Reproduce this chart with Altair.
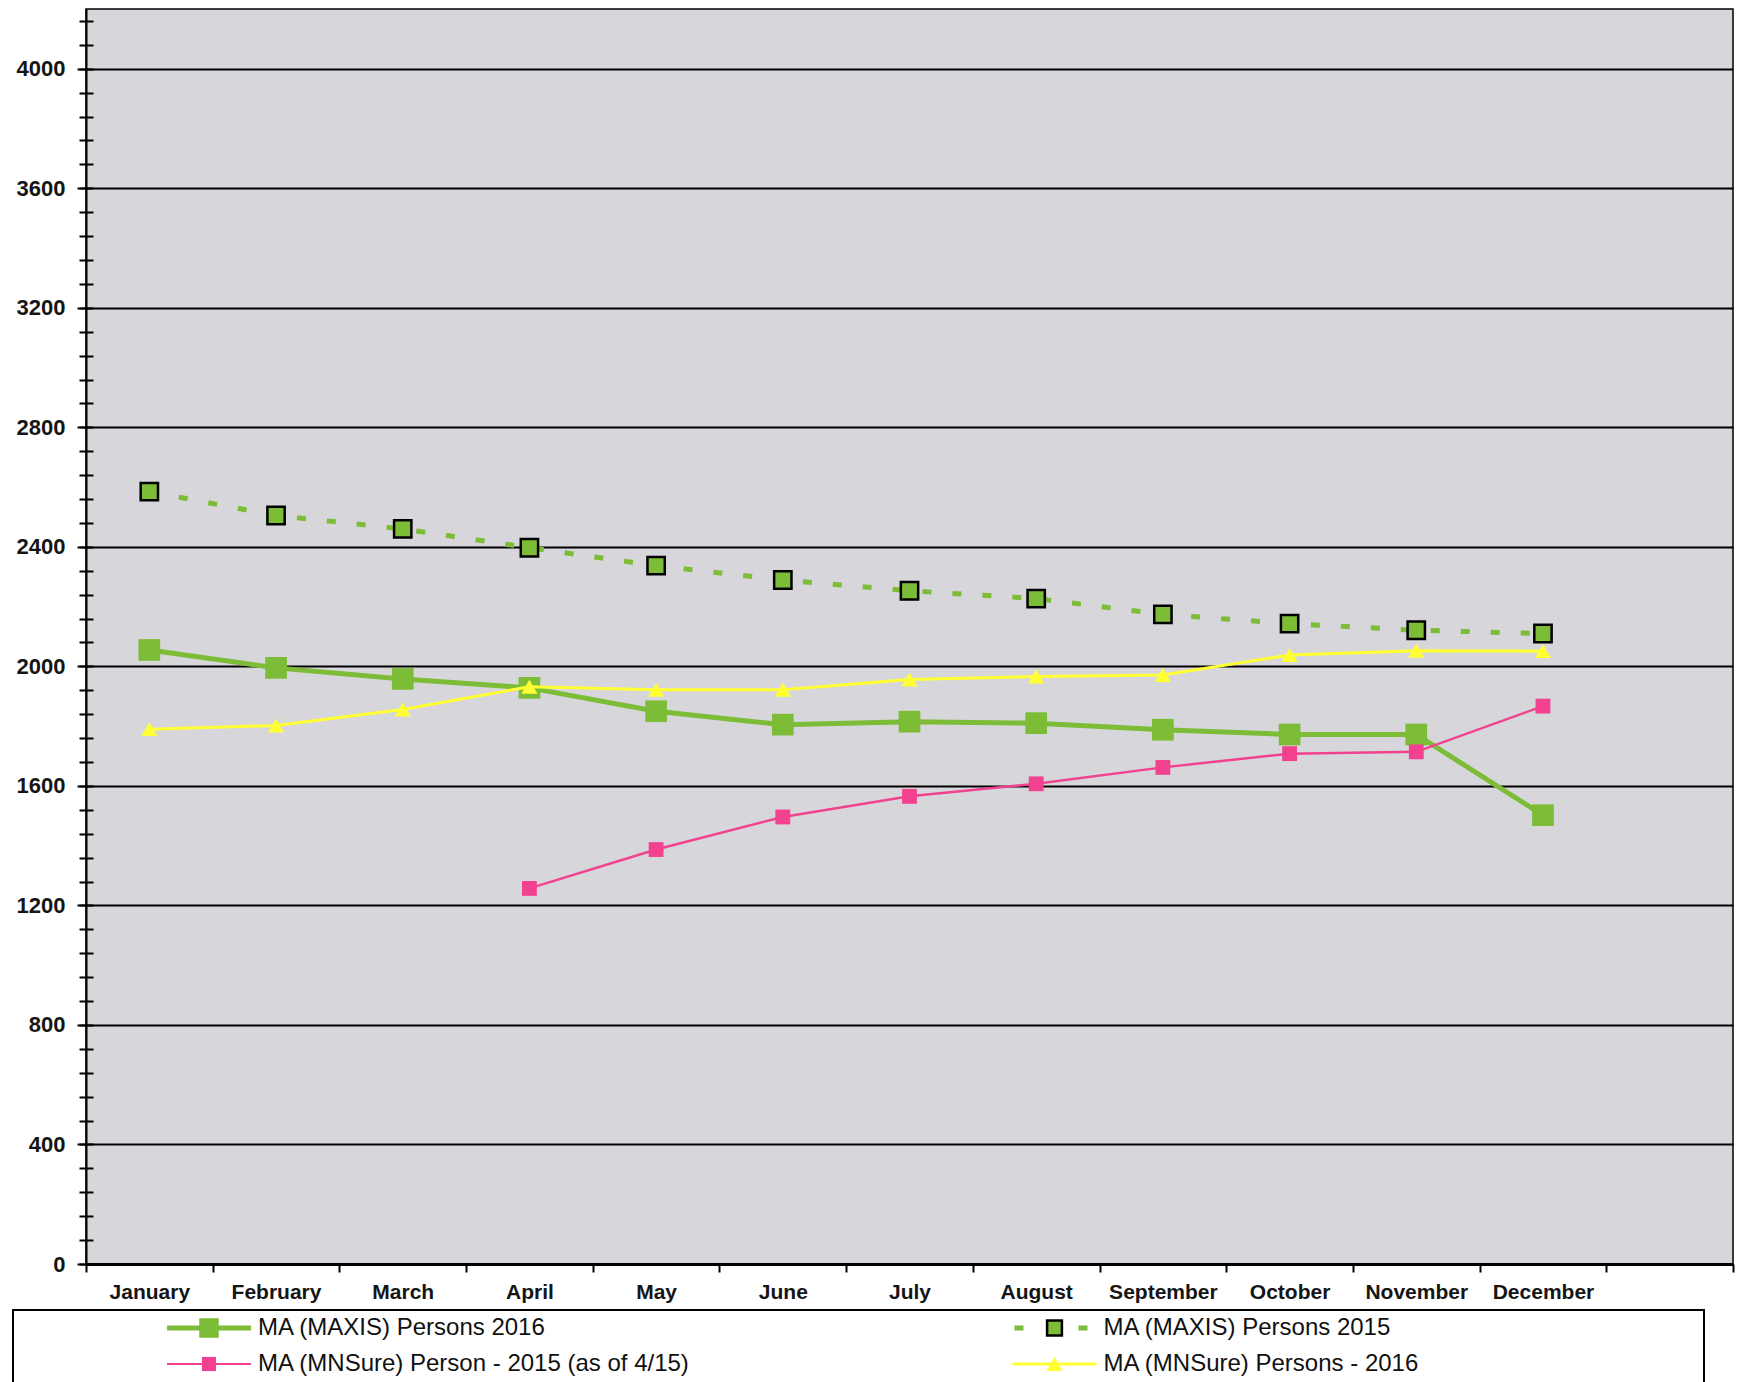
import altair as alt
import pandas as pd

# Monthly enrollment counts
months = ["January", "February", "March", "April", "May", "June", "July",
          "August", "September", "October", "November", "December"]
maxis_2016 = [2055, 1995, 1958, 1928, 1850, 1805, 1815, 1810, 1788, 1772, 1772, 1502]
maxis_2015 = [2585, 2505, 2460, 2397, 2337, 2289, 2253, 2227, 2174, 2143, 2121, 2110]
mnsure_2015 = [None, None, None, 1257, 1387, 1496, 1565, 1607, 1662, 1708, 1714, 1867]
mnsure_2016 = [1790, 1802, 1856, 1932, 1922, 1922, 1956, 1966, 1971, 2038, 2052, 2051]

series_names = ["MA (MAXIS) Persons 2016", "MA (MAXIS) Persons 2015",
                "MA (MNSure) Person - 2015 (as of 4/15)", "MA (MNSure) Persons - 2016"]
series_values = [maxis_2016, maxis_2015, mnsure_2015, mnsure_2016]

y_major = list(range(0, 4001, 400))
y_minor = list(range(0, 4200, 80))

GREEN = "#7cbc36"
PINK = "#f2418f"
YELLOW = "#ffff33"
FONT = "Liberation Sans"

rows = []
for name, vals in zip(series_names, series_values):
    for m, v in zip(months, vals):
        if v is not None:
            rows.append({"series": name, "month": m, "value": v})
df = pd.DataFrame(rows)

# 12 months plus one trailing empty slot on the category axis
x_domain = months + [" "]
x_enc = alt.X(
    "month:N", sort=None,
    scale=alt.Scale(type="band", domain=x_domain, paddingInner=0, paddingOuter=0),
    axis=alt.Axis(title=None, labelAngle=0, tickBand="extent", tickSize=8,
                  tickColor="black", tickWidth=2, domainColor="black",
                  domainWidth=3, grid=False, labelFont=FONT,
                  labelFontWeight="bold", labelFontSize=21, labelColor="#151515",
                  labelPadding=9, labelBaseline="top"),
)

y_scale = alt.Scale(domain=[0, 4200], nice=False, zero=True)
major_axis = alt.Axis(title=None, orient="left", values=y_major, format="d",
                      grid=True, gridColor="black", gridWidth=2, gridOpacity=1,
                      tickSize=9, tickColor="black", tickWidth=2,
                      domainColor="black", domainWidth=2, labelFont=FONT,
                      labelFontWeight="bold", labelFontSize=22,
                      labelColor="#151515", labelPadding=12)
minor_axis = alt.Axis(title=None, orient="left", values=y_minor, offset=-7,
                      tickSize=14, tickColor="black", tickWidth=2,
                      labels=False, domain=False, grid=False)


def y_enc(axis=None):
    return alt.Y("value:Q", scale=y_scale, axis=axis)


base = alt.Chart(df)


def only(name):
    return base.transform_filter(alt.datum.series == name)


green_line = only(series_names[0]).mark_line(color=GREEN, strokeWidth=5).encode(
    x=x_enc, y=y_enc(major_axis))
green_pts = only(series_names[0]).mark_point(
    shape="square", filled=True, size=470, color=GREEN, opacity=1
).encode(x=x_enc, y=y_enc())

pink_line = only(series_names[2]).mark_line(color=PINK, strokeWidth=2.5).encode(
    x=x_enc, y=y_enc())
pink_pts = only(series_names[2]).mark_point(
    shape="square", filled=True, size=220, color=PINK, opacity=1
).encode(x=x_enc, y=y_enc())

yellow_line = only(series_names[3]).mark_line(color=YELLOW, strokeWidth=3).encode(
    x=x_enc, y=y_enc())
yellow_pts = only(series_names[3]).mark_point(
    shape="triangle-up", filled=True, size=260, color=YELLOW, opacity=1
).encode(x=x_enc, y=y_enc())

dash_line = only(series_names[1]).mark_line(
    color=GREEN, strokeWidth=5, strokeDash=[9, 21]
).encode(x=x_enc, y=y_enc(minor_axis))
dash_pts = only(series_names[1]).mark_point(
    shape="square", filled=True, size=300, fill=GREEN, stroke="black",
    strokeWidth=2.5, opacity=1
).encode(x=x_enc, y=y_enc())

main = alt.layer(
    green_line, green_pts, pink_line, pink_pts,
    yellow_line, yellow_pts, dash_line, dash_pts,
).resolve_axis(y="independent").properties(
    width=1647, height=1255,
    view=alt.ViewBackground(fill="#d7d7db", stroke="black", strokeWidth=1.5),
)

# Empty first column: places the plot after its axis labels, so the legend
# box below starts at the labels' left edge instead of under the plot area.
spacer = alt.Chart(pd.DataFrame({"v": [0]})).mark_text(
    text="", opacity=0, fontSize=1, baseline="top", align="left"
).encode(x=alt.value(0), y=alt.value(0)).properties(
    width=1, height=1,
    view=alt.ViewBackground(stroke="transparent", fill="transparent"))

# Legend panel: two columns, two rows
legend_df = pd.DataFrame({
    "series": series_names,
    "col": [0, 1, 0, 1],
    "row": [0, 0, 1, 1],
})
lx = alt.X("col:Q", scale=alt.Scale(domain=[0, 2]), axis=None)
lx2 = alt.X2("col")
ly = alt.Y("row:Q", scale=alt.Scale(domain=[-0.5, 1.5], range=[0, 72]), axis=None)
lbase = alt.Chart(legend_df)


def lonly(name):
    return lbase.transform_filter(alt.datum.series == name)


SYM_START, SYM_END, SYM_MID, LABEL_X = 154, 238, 196, 245

leg_layers = [
    lonly(series_names[0]).mark_rule(color=GREEN, strokeWidth=5,
                                     xOffset=SYM_START, x2Offset=SYM_END).encode(x=lx, x2=lx2, y=ly),
    lonly(series_names[0]).mark_point(shape="square", filled=True, size=380,
                                      color=GREEN, opacity=1, xOffset=SYM_MID).encode(x=lx, y=ly),
    lonly(series_names[2]).mark_rule(color=PINK, strokeWidth=2,
                                     xOffset=SYM_START, x2Offset=SYM_END).encode(x=lx, x2=lx2, y=ly),
    lonly(series_names[2]).mark_point(shape="square", filled=True, size=200,
                                      color=PINK, opacity=1, xOffset=SYM_MID).encode(x=lx, y=ly),
    lonly(series_names[3]).mark_rule(color=YELLOW, strokeWidth=3,
                                     xOffset=SYM_START, x2Offset=SYM_END).encode(x=lx, x2=lx2, y=ly),
    lonly(series_names[3]).mark_point(shape="triangle-up", filled=True, size=260,
                                      color=YELLOW, opacity=1, xOffset=SYM_MID).encode(x=lx, y=ly),
    lonly(series_names[1]).mark_rule(color=GREEN, strokeWidth=5, strokeDash=[9, 55],
                                     xOffset=SYM_START + 2, x2Offset=SYM_END - 9).encode(x=lx, x2=lx2, y=ly),
    lonly(series_names[1]).mark_point(shape="square", filled=True, size=220, fill=GREEN,
                                      stroke="black", strokeWidth=2.5, opacity=1,
                                      xOffset=SYM_MID).encode(x=lx, y=ly),
    lbase.mark_text(align="left", baseline="middle", font=FONT, fontSize=24,
                    color="#111111", xOffset=LABEL_X).encode(x=lx, y=ly, text="series:N"),
]

legend = alt.layer(*leg_layers).properties(
    width=1691, height=100,
    view=alt.ViewBackground(fill="white", stroke="black", strokeWidth=2),
)

chart = alt.vconcat(alt.hconcat(spacer, main, spacing=0), legend, spacing=6).properties(
    padding={"left": 12, "top": 8, "right": 0, "bottom": 0},
    background="white",
)

chart.save("out.html", embed_options={"renderer": "svg", "actions": False})
